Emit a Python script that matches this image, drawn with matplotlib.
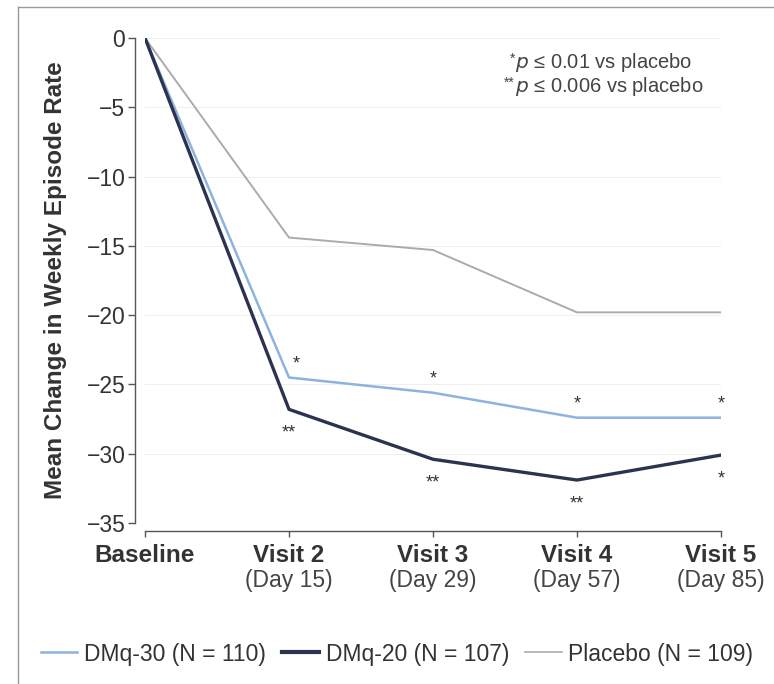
import matplotlib
matplotlib.use("Agg")
import matplotlib.pyplot as plt
import matplotlib.transforms as mtransforms
from matplotlib.lines import Line2D

# ── Data ──────────────────────────────────────────────────────────────────────
visits  = ["Baseline", "Visit 2", "Visit 3", "Visit 4", "Visit 5"]
days    = ["", "(Day 15)", "(Day 29)", "(Day 57)", "(Day 85)"]
dmq30   = [0, -24.5, -25.6, -27.4, -27.4]
dmq20   = [0, -26.8, -30.4, -31.9, -30.1]
placebo = [0, -14.4, -15.3, -19.8, -19.8]
sig_30  = ["", "*", "*", "*", "*"]
sig_20  = ["", "**", "**", "**", "*"]
yticks  = [0, -5, -10, -15, -20, -25, -30, -35]

C30, C20, CPL = "#8db3df", "#2c3350", "#ababab"
FONT = ["Liberation Sans", "DejaVu Sans"]

plt.rcParams["font.family"] = FONT

fig = plt.figure(figsize=(7.74, 6.84), dpi=100)
ax = fig.add_axes([145 / 774, 161 / 684, 576 / 774, 485 / 684])

x = list(range(len(visits)))
ax.plot(x, placebo, color=CPL, lw=1.4, zorder=2)
ax.plot(x, dmq30, color=C30, lw=1.8, zorder=3)
ax.plot(x, dmq20, color=C20, lw=2.4, zorder=4)

ax.set_xlim(0, 4)
ax.set_ylim(-35, 0)

# significance markers
for i in x:
    if sig_30[i]:
        dx = 7 if i == 1 else 0
        tr = mtransforms.offset_copy(ax.transData, fig=fig, x=dx, y=14, units="dots")
        ax.text(i, dmq30[i], sig_30[i], transform=tr, ha="center", va="center",
                fontsize=13, color="#333333")
    if sig_20[i]:
        tr = mtransforms.offset_copy(ax.transData, fig=fig, x=0, y=-24, units="dots")
        ax.text(i, dmq20[i], sig_20[i], transform=tr, ha="center", va="center",
                fontsize=13, color="#333333")

# axes styling
for s in ("top", "right"):
    ax.spines[s].set_visible(False)
ax.spines["left"].set_position(("outward", 7.2))
ax.spines["bottom"].set_position(("outward", 5.8))
for s in ("left", "bottom"):
    ax.spines[s].set_color("#555555")
    ax.spines[s].set_linewidth(1.0)

ax.set_yticks(yticks)
ax.set_yticklabels([f"{v}".replace("-", "\u2212") for v in yticks],
                   fontsize=16.5, color="#333333")
ax.tick_params(axis="y", length=5, width=1, color="#555555", pad=2)
ax.set_xticks(x)
ax.set_xticklabels([])
ax.tick_params(axis="x", length=4, width=1, color="#555555")
ax.yaxis.grid(True, color="#efefef", lw=0.7)
ax.set_axisbelow(True)

# faint right border
ax.axvline(4, color="#ededed", lw=0.8, zorder=0)

# two-line x labels
trx = mtransforms.blended_transform_factory(ax.transData, fig.transFigure)
for i in x:
    ax.text(i, 1 - 556 / 684, visits[i], transform=trx, ha="center", va="center",
            fontsize=17.5, fontweight="bold", color="#333333")
    if days[i]:
        ax.text(i, 1 - 580 / 684, days[i], transform=trx, ha="center", va="center",
                fontsize=16.5, color="#444444")

ax.set_ylabel("Mean Change in Weekly Episode Rate", fontsize=17.5,
              fontweight="bold", color="#333333")
ax.yaxis.set_label_coords(-0.135, 0.5)

# p-value note
for yy, stars, rest in [(62, "*", "0.01"), (86, "**", "0.006")]:
    fig.text(515 / 774, 1 - (yy - 3) / 684, stars, ha="right", va="center",
             fontsize=10, color="#444444")
    fig.text(515 / 774, 1 - yy / 684,
             "$\\it{p}$ \u2264 " + rest + " vs placebo", ha="left", va="center",
             fontsize=14.5, color="#444444")

# legend
handles = [Line2D([], [], color=C30, lw=1.8),
           Line2D([], [], color=C20, lw=3.0),
           Line2D([], [], color=CPL, lw=1.2)]
labels = ["DMq-30 (N = 110)", "DMq-20 (N = 107)", "Placebo (N = 109)"]
fig.legend(handles, labels, loc="center", bbox_to_anchor=(397 / 774, 1 - 654 / 684),
           ncol=3, frameon=False, handlelength=1.6, handletextpad=0.3,
           columnspacing=0.7, prop={"size": 16.5}, labelcolor="#333333")

# scan frame
fig.add_artist(Line2D([18 / 774, 18 / 774], [0, 1 - 7 / 684],
                      transform=fig.transFigure, color="#9a9a9a", lw=1))
fig.add_artist(Line2D([18 / 774, 1], [1 - 7 / 684, 1 - 7 / 684],
                      transform=fig.transFigure, color="#9a9a9a", lw=1))

fig.savefig("out.png", dpi=100)
